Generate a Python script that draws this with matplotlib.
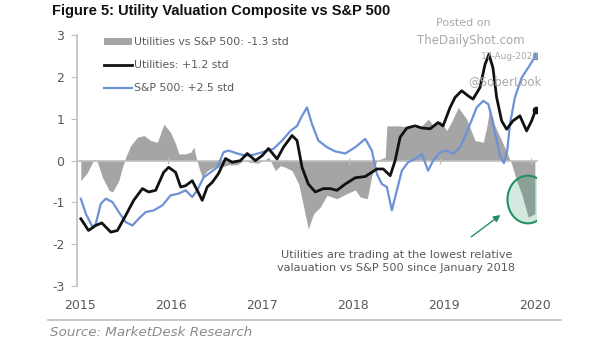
import numpy as np
import matplotlib
matplotlib.use("Agg")
import matplotlib.pyplot as plt
from matplotlib.patches import Ellipse

plt.rcParams.update({"font.family": "DejaVu Sans", "font.size": 9,
                     "axes.unicode_minus": False})

GRAY_TXT = "#595959"
AREA = "#a5a5a5"
BLUE = "#6e91d6"
BLACK = "#111111"
GREEN = "#23915f"

# relative valuation (Utilities vs S&P 500), std
rel_t = [2015.044, 2015.118, 2015.190, 2015.227, 2015.282, 2015.355, 2015.392, 2015.462,
         2015.502, 2015.538, 2015.593, 2015.667, 2015.740, 2015.813, 2015.887, 2015.959,
         2016.033, 2016.088, 2016.124, 2016.198, 2016.253, 2016.289, 2016.308, 2016.344,
         2016.381, 2016.436, 2016.509, 2016.582, 2016.674, 2016.766, 2016.838, 2016.912,
         2016.986, 2017.058, 2017.113, 2017.187, 2017.242, 2017.297, 2017.370, 2017.443,
         2017.498, 2017.549, 2017.608, 2017.681, 2017.755, 2017.864, 2017.974, 2018.066,
         2018.121, 2018.198, 2018.249, 2018.304, 2018.396, 2018.414, 2018.560, 2018.670,
         2018.780, 2018.871, 2018.926, 2019.000, 2019.074, 2019.132, 2019.201, 2019.293,
         2019.385, 2019.476, 2019.513, 2019.549, 2019.604, 2019.678, 2019.751, 2019.788,
         2019.843, 2019.898, 2019.970, 2020.044]
rel_v = [-0.48, -0.28, 0.04, -0.04, -0.40, -0.71, -0.75, -0.48,
         -0.16, 0.08, 0.36, 0.56, 0.60, 0.48, 0.44, 0.87,
         0.67, 0.40, 0.16, 0.16, 0.20, 0.32, 0.12, -0.16,
         -0.40, -0.24, -0.16, -0.16, -0.10, -0.10, 0.00, -0.04,
         -0.06, 0.00, 0.08, -0.24, -0.12, -0.16, -0.24, -0.56,
         -1.11, -1.63, -1.27, -1.11, -0.83, -0.91, -0.79, -0.70,
         -0.87, -0.91, -0.36, 0.00, 0.08, 0.83, 0.83, 0.79,
         0.79, 0.99, 0.83, 0.95, 0.72, 0.95, 1.27, 0.99,
         0.48, 0.44, 0.79, 1.27, 0.83, 0.48, 0.12, -0.08,
         -0.48, -0.79, -1.35, -1.27]

# utilities composite, std
utl_t = [2015.044, 2015.129, 2015.209, 2015.275, 2015.374, 2015.447, 2015.538, 2015.626,
         2015.722, 2015.791, 2015.868, 2015.956, 2016.011, 2016.088, 2016.143, 2016.198,
         2016.271, 2016.326, 2016.381, 2016.436, 2016.491, 2016.560, 2016.637, 2016.711,
         2016.802, 2016.876, 2016.967, 2017.041, 2017.110, 2017.205, 2017.275, 2017.370,
         2017.425, 2017.480, 2017.549, 2017.626, 2017.714, 2017.791, 2017.865, 2017.956,
         2018.066, 2018.176, 2018.304, 2018.374, 2018.451, 2018.505, 2018.560, 2018.634,
         2018.725, 2018.799, 2018.890, 2018.978, 2019.033, 2019.110, 2019.165, 2019.238,
         2019.308, 2019.363, 2019.440, 2019.495, 2019.538, 2019.582, 2019.623, 2019.678,
         2019.733, 2019.802, 2019.879, 2019.953, 2020.008, 2020.052]
utl_v = [-1.39, -1.67, -1.55, -1.49, -1.71, -1.67, -1.31, -0.95,
         -0.67, -0.75, -0.71, -0.28, -0.16, -0.28, -0.63, -0.60,
         -0.48, -0.71, -0.95, -0.63, -0.52, -0.31, 0.05, -0.04,
         0.00, 0.17, 0.00, 0.12, 0.29, 0.04, 0.32, 0.60,
         0.48, -0.16, -0.56, -0.75, -0.67, -0.67, -0.71, -0.56,
         -0.41, -0.38, -0.20, -0.20, -0.36, 0.00, 0.56, 0.78,
         0.83, 0.78, 0.76, 0.91, 0.83, 1.27, 1.51, 1.67,
         1.55, 1.47, 1.75, 2.30, 2.54, 2.22, 1.51, 0.95,
         0.75, 0.95, 1.07, 0.71, 0.95, 1.21]

# S&P 500 composite, std
spx_t = [2015.044, 2015.099, 2015.173, 2015.209, 2015.264, 2015.319, 2015.392, 2015.462,
         2015.538, 2015.612, 2015.681, 2015.758, 2015.846, 2015.942, 2016.033, 2016.121,
         2016.198, 2016.271, 2016.326, 2016.396, 2016.473, 2016.546, 2016.615, 2016.670,
         2016.766, 2016.857, 2016.945, 2017.041, 2017.110, 2017.165, 2017.260, 2017.352,
         2017.425, 2017.480, 2017.535, 2017.590, 2017.659, 2017.755, 2017.846, 2017.956,
         2018.066, 2018.176, 2018.249, 2018.304, 2018.359, 2018.414, 2018.469, 2018.524,
         2018.579, 2018.648, 2018.725, 2018.799, 2018.868, 2018.923, 2019.000, 2019.074,
         2019.143, 2019.220, 2019.256, 2019.330, 2019.403, 2019.476, 2019.531, 2019.568,
         2019.623, 2019.659, 2019.703, 2019.740, 2019.769, 2019.824, 2019.898, 2019.970,
         2020.051]
spx_v = [-0.91, -1.27, -1.59, -1.51, -1.03, -0.91, -0.99, -1.23,
         -1.47, -1.55, -1.39, -1.23, -1.19, -1.07, -0.83, -0.79,
         -0.71, -0.87, -0.71, -0.40, -0.28, -0.16, 0.20, 0.24,
         0.17, 0.12, 0.14, 0.20, 0.25, 0.28, 0.48, 0.71,
         0.83, 1.07, 1.27, 0.87, 0.48, 0.32, 0.22, 0.17,
         0.32, 0.52, 0.24, -0.32, -0.56, -0.63, -1.19, -0.71,
         -0.24, -0.04, 0.04, 0.16, -0.24, 0.00, 0.20, 0.24,
         0.16, 0.32, 0.48, 0.87, 1.27, 1.43, 1.35, 1.03,
         0.48, 0.12, -0.06, 0.24, 0.87, 1.51, 1.98, 2.22,
         2.50]

years = [2015, 2016, 2017, 2018, 2019, 2020]
yticks = [-3, -2, -1, 0, 1, 2, 3]

fig = plt.figure(figsize=(6.05, 3.41), dpi=100)
ax = fig.add_axes([0.127, 0.161, 0.761, 0.736])

ax.fill_between(rel_t, rel_v, 0, color=AREA, lw=0, label="Utilities vs S&P 500: -1.3 std")
ax.plot(spx_t, spx_v, color=BLUE, lw=1.6, label="S&P 500: +2.5 std", zorder=3,
        solid_joinstyle="round")
ax.plot(utl_t, utl_v, color=BLACK, lw=2.0, label="Utilities: +1.2 std", zorder=4,
        solid_joinstyle="round")
ax.plot(spx_t[-1], spx_v[-1], "o", color=BLUE, ms=4.5, zorder=5)
ax.plot(utl_t[-1], utl_v[-1], "o", color=BLACK, ms=4.5, zorder=5)

ax.set_xlim(2015.0, 2020.07)
ax.set_ylim(-3, 3)

# zero line doubles as the date axis with small year ticks
for s in ["top", "right"]:
    ax.spines[s].set_visible(False)
ax.spines["bottom"].set_position(("data", 0))
ax.spines["bottom"].set_color("#bfbfbf")
ax.spines["bottom"].set_linewidth(1.2)
ax.spines["left"].set_color("#bfbfbf")
ax.spines["left"].set_linewidth(1.2)
ax.set_xticks(years)
ax.tick_params(axis="x", direction="inout", length=4, color="#bfbfbf", labelbottom=False)
ax.set_yticks(yticks)
ax.tick_params(axis="y", length=4, color="#bfbfbf", labelcolor=GRAY_TXT, labelsize=9, pad=5)

sec = ax.secondary_xaxis(-0.0)
sec.spines["bottom"].set_visible(False)
sec.set_xticks([y + 0.04 for y in years])
sec.set_xticklabels([str(y) for y in years])
sec.tick_params(length=0, labelcolor=GRAY_TXT, labelsize=9, pad=9)

h, l = ax.get_legend_handles_labels()
order = [0, 2, 1]
ax.legend([h[i] for i in order], [l[i] for i in order], loc="upper left",
          bbox_to_anchor=(0.038, 1.03), frameon=False, fontsize=7.8, labelcolor=GRAY_TXT,
          handlelength=2.6, handleheight=0.7, handletextpad=0.2, labelspacing=1.2)

# callout on the latest reading
ax.add_patch(Ellipse((2019.967, -0.93), 0.45, 1.14, facecolor=GREEN, alpha=0.2, lw=0, zorder=6))
ax.add_patch(Ellipse((2019.967, -0.93), 0.45, 1.14, facecolor="none", edgecolor=GREEN, lw=1.5, zorder=6))
ax.annotate("", xy=(2019.69, -1.26), xytext=(2019.32, -1.86),
            arrowprops=dict(arrowstyle="-|>", color=GREEN, lw=1.0, mutation_scale=10))
ax.text(2018.52, -2.42, "Utilities are trading at the lowest relative\nvalauation vs S&P 500 since January 2018",
        ha="center", va="center", fontsize=8.1, color=GRAY_TXT, linespacing=1.35)

fig.text(0.086, 0.968, "Figure 5: Utility Valuation Composite vs S&P 500", fontsize=10.5,
         fontweight="bold", va="center", color="#111111", family="Liberation Sans")

wm = "#a8a8a8"
fig.text(0.765, 0.932, "Posted on", fontsize=8, color=wm, ha="center", va="center")
fig.text(0.778, 0.882, "TheDailyShot.com", fontsize=8.5, color=wm, ha="center", va="center")
fig.text(0.843, 0.835, "17-Aug-2020", fontsize=6.5, color=wm, ha="center", va="center")
fig.text(0.835, 0.762, "@SoberLook", fontsize=8.5, color=wm, ha="center", va="center")

fig.add_artist(plt.Line2D([0.08, 0.928], [0.062, 0.062], color="#bfbfbf", lw=1.2))
fig.text(0.083, 0.024, "Source: MarketDesk Research", fontsize=9.7, style="italic",
         color="#8c8c8c", va="center")

fig.savefig("out.png", dpi=100)
